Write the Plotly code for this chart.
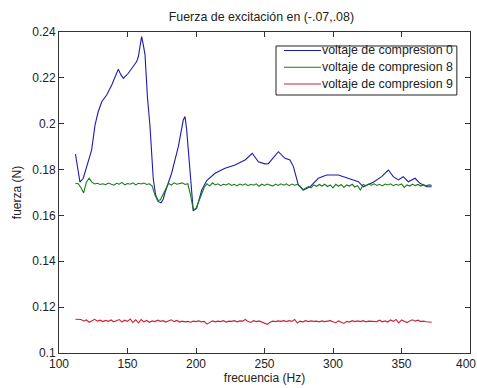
import plotly.graph_objects as go

# ---- data ----
freq_blue = [112, 113.2, 115.3, 117.7, 120.2, 123.8, 126.3, 128.5, 131.2, 134.8, 138.5, 141.5,
             143.3, 145, 147, 150.6, 154, 156.7, 157.9, 159.3, 160.3, 161.5, 162.8, 164.5,
             166.4, 168.8, 170.5, 172.5, 174.5, 176.1, 177.4, 182.2, 187.1, 190.7, 192,
             193.2, 194.4, 195.6, 198, 200.5, 204.2, 207.8, 213.9, 221.2, 228.5, 235.8,
             241.1, 245.5, 250.4, 252.8, 256, 260.1, 265, 268.6, 271.1, 274.7, 278.3,
             283.2, 289.3, 295.4, 303.9, 311.2, 318.5, 322.1, 329.4, 335.5, 340.4, 344,
             347.7, 351.3, 355, 359.9, 363.5, 368.4, 372]
fuerza_v0 = [0.1868, 0.1820, 0.1745, 0.1762, 0.1810, 0.1885, 0.1994, 0.2050, 0.2096, 0.2125,
             0.2169, 0.2215, 0.2238, 0.2215, 0.2198, 0.2220, 0.2250, 0.2271, 0.2292, 0.2340,
             0.2380, 0.2345, 0.2300, 0.2120, 0.1990, 0.1760, 0.1690, 0.1660, 0.1655, 0.1672,
             0.1700, 0.1784, 0.1900, 0.2016, 0.2031, 0.1973, 0.1880, 0.1769, 0.1620, 0.1632,
             0.1711, 0.1752, 0.1784, 0.1806, 0.1820, 0.1842, 0.1871, 0.1834, 0.1825, 0.1826,
             0.1850, 0.1878, 0.1849, 0.1842, 0.1813, 0.1733, 0.1711, 0.1725, 0.1762, 0.1776,
             0.1776, 0.1762, 0.1747, 0.1725, 0.1745, 0.1769, 0.1798, 0.1769, 0.1755, 0.1769,
             0.1747, 0.1762, 0.1740, 0.1725, 0.1725]

freq_grid = list(range(112, 374, 2))
fuerza_v8 = [0.1740, 0.1738, 0.1722, 0.1698, 0.1745, 0.1762, 0.1745, 0.1737, 0.1740, 0.1735,
             0.1738, 0.1734, 0.1741, 0.1736, 0.1732, 0.1740, 0.1736, 0.1744, 0.1733, 0.1739,
             0.1736, 0.1742, 0.1733, 0.1740, 0.1737, 0.1741, 0.1735, 0.1738, 0.1728, 0.1690,
             0.1665, 0.1668, 0.1690, 0.1718, 0.1740, 0.1732, 0.1742, 0.1736, 0.1738, 0.1742,
             0.1735, 0.1738, 0.1690, 0.1625, 0.1630, 0.1660, 0.1695, 0.1722, 0.1738, 0.1728,
             0.1742, 0.1733, 0.1738, 0.1730, 0.1736, 0.1733, 0.1739, 0.1731, 0.1736, 0.1729,
             0.1737, 0.1732, 0.1738, 0.1730, 0.1736, 0.1732, 0.1738, 0.1727, 0.1736, 0.1731,
             0.1737, 0.1733, 0.1728, 0.1737, 0.1731, 0.1738, 0.1732, 0.1738, 0.1730, 0.1737,
             0.1732, 0.1736, 0.1728, 0.1712, 0.1718, 0.1726, 0.1720, 0.1733, 0.1727, 0.1735,
             0.1728, 0.1736, 0.1726, 0.1733, 0.1720, 0.1736, 0.1727, 0.1735, 0.1722, 0.1733,
             0.1728, 0.1736, 0.1724, 0.1730, 0.1710, 0.1735, 0.1730, 0.1737, 0.1732, 0.1738,
             0.1731, 0.1736, 0.1729, 0.1737, 0.1733, 0.1738, 0.1730, 0.1736, 0.1732, 0.1737,
             0.1722, 0.1733, 0.1728, 0.1736, 0.1730, 0.1735, 0.1728, 0.1734, 0.1729, 0.1733,
             0.1731]
fuerza_v9 = [0.1147, 0.1145, 0.1146, 0.1140, 0.1144, 0.1134, 0.1142, 0.1147, 0.1139, 0.1143,
             0.1137, 0.1142, 0.1138, 0.1144, 0.1136, 0.1141, 0.1146, 0.1135, 0.1143, 0.1138,
             0.1148, 0.1133, 0.1145, 0.1131, 0.1146, 0.1136, 0.1142, 0.1134, 0.1140, 0.1137,
             0.1143, 0.1138, 0.1141, 0.1135, 0.1140, 0.1145, 0.1137, 0.1142, 0.1135, 0.1139,
             0.1136, 0.1138, 0.1134, 0.1139, 0.1137, 0.1140, 0.1136, 0.1138, 0.1126, 0.1134,
             0.1140, 0.1136, 0.1139, 0.1137, 0.1141, 0.1135, 0.1139, 0.1138, 0.1141, 0.1136,
             0.1140, 0.1139, 0.1146, 0.1137, 0.1133, 0.1141, 0.1137, 0.1140, 0.1135, 0.1131,
             0.1125, 0.1134, 0.1139, 0.1137, 0.1140, 0.1138, 0.1141, 0.1137, 0.1141, 0.1138,
             0.1146, 0.1131, 0.1139, 0.1136, 0.1141, 0.1137, 0.1140, 0.1138, 0.1139, 0.1136,
             0.1140, 0.1137, 0.1138, 0.1141, 0.1136, 0.1132, 0.1140, 0.1135, 0.1129, 0.1138,
             0.1135, 0.1141, 0.1137, 0.1140, 0.1137, 0.1141, 0.1136, 0.1139, 0.1138, 0.1140,
             0.1137, 0.1143, 0.1136, 0.1140, 0.1135, 0.1144, 0.1138, 0.1146, 0.1131, 0.1144,
             0.1137, 0.1133, 0.1140, 0.1145, 0.1139, 0.1143, 0.1137, 0.1139, 0.1136, 0.1135,
             0.1134]

series_names = ["voltaje de compresion 0", "voltaje de compresion 8", "voltaje de compresion 9"]
series_colors = ["#1c1cb0", "#1a7a1a", "#cc2236"]
x_ticks = [100, 150, 200, 250, 300, 350, 400]
x_tick_text = ["100", "150", "200", "250", "300", "350", "400"]
y_ticks = [0.1, 0.12, 0.14, 0.16, 0.18, 0.2, 0.22, 0.24]
y_tick_text = ["0.1", "0.12", "0.14", "0.16", "0.18", "0.2", "0.22", "0.24"]

FONT = "Liberation Sans, Arial, sans-serif"
AX = "#333333"
TXT = "#222222"

fig = go.Figure()
for xs, ys, name, col in [(freq_blue, fuerza_v0, series_names[0], series_colors[0]),
                          (freq_grid, fuerza_v8, series_names[1], series_colors[1]),
                          (freq_grid, fuerza_v9, series_names[2], series_colors[2])]:
    fig.add_trace(go.Scatter(x=xs, y=ys, mode="lines", name=name, showlegend=False,
                             line=dict(color=col, width=1.1)))

# MATLAB-style legend box (drawn in paper coordinates)
shapes = [dict(type="rect", xref="paper", yref="paper", x0=0.528, x1=0.968, y0=0.8037, y1=0.9564,
               line=dict(color=TXT, width=1), fillcolor="white", layer="above")]
annotations = []
row_y = [0.9424, 0.8900, 0.8380]
for name, col, ry in zip(series_names, series_colors, row_y):
    shapes.append(dict(type="line", xref="paper", yref="paper", x0=0.5474, x1=0.6375, y0=ry, y1=ry,
                       line=dict(color=col, width=1.1), layer="above"))
    annotations.append(dict(xref="paper", yref="paper", x=0.6375, y=ry, xanchor="left",
                            yanchor="middle", text=name, showarrow=False, borderpad=0,
                            font=dict(size=12.4, family=FONT, color=TXT)))

# last x tick label sits at the right edge of the page: keep it fully inside
annotations.append(dict(xref="x", yref="paper", x=x_ticks[-1], y=0, xanchor="right",
                        yanchor="top", xshift=7, yshift=-3, text=x_tick_text[-1],
                        showarrow=False, borderpad=0, font=dict(size=12, family=FONT, color=TXT)))
x_tick_text_axis = x_tick_text[:-1] + [""]

fig.update_layout(
    width=477, height=388,
    margin=dict(l=59, r=7, t=32, b=35),
    paper_bgcolor="white", plot_bgcolor="white",
    font=dict(family=FONT, size=12, color=TXT),
    title=dict(text="Fuerza de excitación en (-.07,.08)", x=0.548, xanchor="center",
               y=1 - 17 / 388, yanchor="middle", font=dict(size=12.4, family=FONT, color=TXT)),
    showlegend=False,
    shapes=shapes,
    annotations=annotations,
    xaxis=dict(range=[100, 400], tickmode="array", tickvals=x_ticks, ticktext=x_tick_text_axis,
               automargin=False,
               ticks="inside", ticklen=5, tickcolor=AX, showline=True, linecolor=AX,
               mirror="ticks", showgrid=False, zeroline=False,
               title=dict(text="frecuencia (Hz)", standoff=2, font=dict(size=12)),
               tickfont=dict(size=12)),
    yaxis=dict(range=[0.1, 0.24], tickmode="array", tickvals=y_ticks, ticktext=y_tick_text,
               automargin=False,
               ticks="inside", ticklen=5, tickcolor=AX, showline=True, linecolor=AX,
               mirror="ticks", showgrid=False, zeroline=False,
               title=dict(text="fuerza (N)", standoff=8, font=dict(size=12)),
               tickfont=dict(size=12)),
)

fig.write_html("out.html")
